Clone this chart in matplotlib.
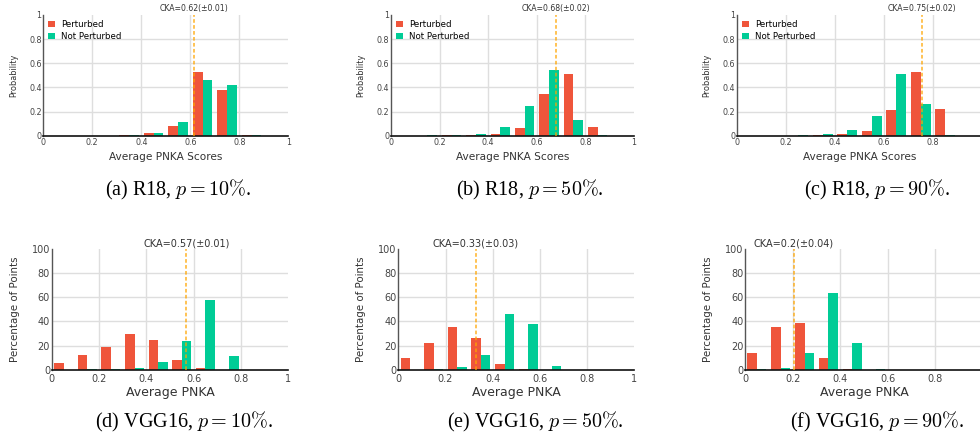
import numpy as np
import matplotlib
matplotlib.use("Agg")
import matplotlib.pyplot as plt

plt.rcParams['font.family'] = ['DejaVu Sans']
plt.rcParams['mathtext.fontset'] = 'cm'

# ---------------- data ----------------
bin_edges = [0.0, 0.1, 0.2, 0.3, 0.4, 0.5, 0.6, 0.7, 0.8, 0.9, 1.0]
series_names = ["Perturbed", "Not Perturbed"]

# R18 (probability per bin)
r18_p10_perturbed = [0, 0, 0, 0.003, 0.02, 0.08, 0.528, 0.378, 0.003, 0]
r18_p10_not_pert = [0, 0, 0, 0.003, 0.022, 0.113, 0.461, 0.42, 0.003, 0]
r18_p50_perturbed = [0, 0, 0.002, 0.002, 0.014, 0.064, 0.345, 0.511, 0.072, 0]
r18_p50_not_pert = [0, 0.002, 0.002, 0.014, 0.072, 0.246, 0.544, 0.13, 0.003, 0]
r18_p90_perturbed = [0, 0, 0, 0.002, 0.014, 0.039, 0.213, 0.528, 0.221, 0]
r18_p90_not_pert = [0, 0, 0.002, 0.014, 0.047, 0.163, 0.511, 0.262, 0.003, 0]

# VGG16 (percentage of points per bin)
vgg_p10_perturbed = [5.5, 12.2, 18.8, 29.6, 24.6, 8.0, 1.4, 0, 0, 0]
vgg_p10_not_pert = [0, 0.3, 0.3, 1.4, 6.1, 23.8, 57.7, 11.3, 0, 0]
vgg_p50_perturbed = [9.7, 22.1, 35.4, 26.2, 4.7, 0.3, 0, 0, 0, 0]
vgg_p50_not_pert = [0, 0.3, 2.2, 12.2, 46.1, 37.8, 3.0, 0, 0, 0]
vgg_p90_perturbed = [13.8, 35.4, 38.7, 9.7, 0.3, 0, 0, 0, 0, 0]
vgg_p90_not_pert = [0.3, 1.4, 13.8, 63.5, 22.1, 0.3, 0, 0, 0, 0]

cka_values = [0.616, 0.678, 0.754, 0.569, 0.328, 0.204]
cka_errors = [0.01, 0.02, 0.02, 0.01, 0.03, 0.04]

captions = [r"(a) R18, $p = 10\%$.", r"(b) R18, $p = 50\%$.", r"(c) R18, $p = 90\%$.",
            r"(d) VGG16, $p = 10\%$.", r"(e) VGG16, $p = 50\%$.", r"(f) VGG16, $p = 90\%$."]

x_ticks = [0, 0.2, 0.4, 0.6, 0.8, 1]
x_ticklabels = ["0", "0.2", "0.4", "0.6", "0.8", "1"]
y_ticks_prob = [0, 0.2, 0.4, 0.6, 0.8, 1]
y_ticklabels_prob = ["0", "0.2", "0.4", "0.6", "0.8", "1"]
y_ticks_pct = [0, 20, 40, 60, 80, 100]
y_ticklabels_pct = ["0", "20", "40", "60", "80", "100"]

panels = [
    (r18_p10_perturbed, r18_p10_not_pert),
    (r18_p50_perturbed, r18_p50_not_pert),
    (r18_p90_perturbed, r18_p90_not_pert),
    (vgg_p10_perturbed, vgg_p10_not_pert),
    (vgg_p50_perturbed, vgg_p50_not_pert),
    (vgg_p90_perturbed, vgg_p90_not_pert),
]

# ---------------- layout (pixels) ----------------
W, H = 980, 440
RED = '#EF553B'
GREEN = '#00CC96'

# (left, right, top, bottom) in pixels
boxes = [
    (43.3, 288.3, 15.0, 135.7),
    (391.0, 634.0, 15.0, 135.7),
    (737.0, 982.0, 15.0, 135.7),
    (51.7, 288.3, 249.0, 369.7),
    (398.3, 634.3, 249.0, 369.7),
    (745.0, 983.0, 249.0, 369.7),
]
caption_pos = [(178, 190), (530, 190), (877, 190), (184, 422), (535, 422), (877, 422)]

fig = plt.figure(figsize=(W / 100, H / 100), dpi=100)
centers = [(bin_edges[i] + bin_edges[i + 1]) / 2 for i in range(len(bin_edges) - 1)]

for idx, ((pert, notp), (l, r, t, b)) in enumerate(zip(panels, boxes)):
    top_row = idx < 3
    ax = fig.add_axes([l / W, 1 - b / H, (r - l) / W, (b - t) / H])
    ax.hist([centers, centers], bins=bin_edges, weights=[pert, notp],
            color=[RED, GREEN], label=series_names, zorder=2)
    ax.set_xlim(0, 1)
    if top_row:
        ax.set_ylim(0, 1)
        ax.set_yticks(y_ticks_prob)
        ax.set_yticklabels(y_ticklabels_prob)
    else:
        ax.set_ylim(0, 100)
        ax.set_yticks(y_ticks_pct)
        ax.set_yticklabels(y_ticklabels_pct)
    ax.set_xticks(x_ticks)
    ax.set_xticklabels(x_ticklabels)

    tick_fs = 5.8 if top_row else 7.0
    ax.tick_params(axis='both', length=0, labelsize=tick_fs, colors='#444444')
    ax.tick_params(axis='x', pad=1.8 if top_row else 3.0)
    ax.tick_params(axis='y', pad=1.2)

    ax.grid(True, color='#dedede', linewidth=1.0, zorder=0)
    ax.set_axisbelow(True)
    xg = ax.get_xgridlines()
    xg[0].set_visible(False)
    xg[-1].set_visible(False)
    ax.get_ygridlines()[-1].set_visible(False)
    ax.get_ygridlines()[0].set_visible(False)

    for s in ['top', 'right']:
        ax.spines[s].set_visible(False)
    ax.spines['left'].set_color('#555555')
    ax.spines['left'].set_linewidth(1.0)
    ax.spines['bottom'].set_color('#111111')
    ax.spines['bottom'].set_linewidth(1.2)
    ax.spines['bottom'].set_zorder(3)

    h = b - t
    w = r - l
    if top_row:
        ax.set_xlabel("Average PNKA Scores", fontsize=7.6, color='#333333')
        ax.set_ylabel("Probability", fontsize=5.9, color='#333333')
        ax.xaxis.set_label_coords(0.5, -(157 - b) / h)
        ax.yaxis.set_label_coords(-30.0 / w, 0.5)
    else:
        ax.set_xlabel("Average PNKA", fontsize=9, color='#333333')
        ax.set_ylabel("Percentage of Points", fontsize=7.4, color='#333333')
        ax.xaxis.set_label_coords(0.5, -(392 - b) / h)
        ax.yaxis.set_label_coords(-37.0 / w, 0.5)
    ax.xaxis.label.set_va('center')
    ax.yaxis.label.set_va('center')

    cka = cka_values[idx]
    ax.axvline(cka, color='#FFA500', alpha=0.85, linestyle=(0, (2.4, 1.5)),
               linewidth=1.1, zorder=4)
    ax.text(cka, 1 + 6 / h, f"CKA={round(cka, 2)}(\u00b1{cka_errors[idx]})",
            transform=ax.get_xaxis_transform(), ha='center', va='center',
            fontsize=5.6 if top_row else 7.0, color='#333333')

    if top_row:
        ax.legend(loc='upper left', bbox_to_anchor=(0.0, 1.0), frameon=False,
                  fontsize=6.2, handlelength=0.8, handleheight=0.8,
                  handletextpad=0.7, labelspacing=0.35, borderaxespad=0.3,
                  borderpad=0.3)

    cx, cy = caption_pos[idx]
    fig.text(cx / W, 1 - cy / H, captions[idx], ha='center', va='center',
             fontsize=14.5, family=['Liberation Serif', 'DejaVu Serif'])

fig.savefig("out.png", dpi=100)
